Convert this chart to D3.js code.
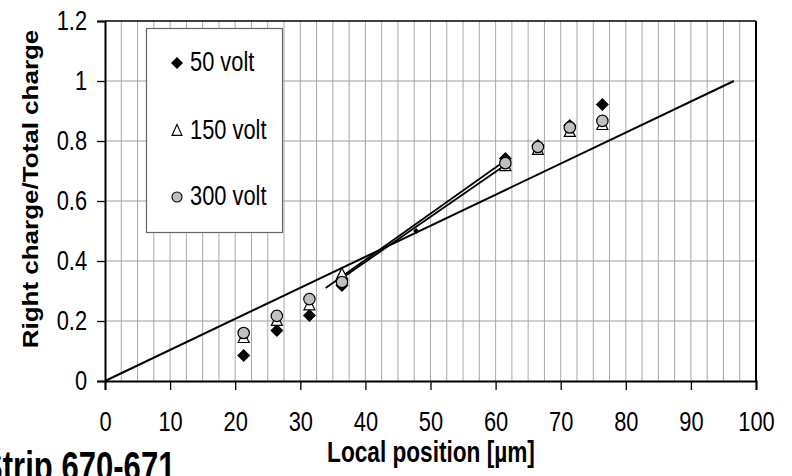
<!DOCTYPE html>
<html>
<head>
<meta charset="utf-8">
<script src="https://cdn.jsdelivr.net/npm/d3@7"></script>
<style>
  html, body { margin: 0; padding: 0; background: #fff; }
  svg { display: block; }
  text { font-family: "Liberation Sans", Arial, sans-serif; fill: #000; }
</style>
</head>
<body>
<svg id="chart" width="792" height="476"></svg>
<script>
// ---- data ----
const positions = [21.3, 26.4, 31.4, 36.4, 61.5, 66.5, 71.4, 76.4];
const v50  = [0.085, 0.168, 0.218, 0.318, 0.742, 0.785, 0.852, 0.922];
const v150 = [0.143, 0.200, 0.252, 0.355, 0.716, 0.770, 0.830, 0.853];
const v300 = [0.160, 0.217, 0.273, 0.330, 0.726, 0.780, 0.845, 0.867];
const midPoint = [[47.8, 0.50]];
const diagonalLine = [[0, 0], [96.6, 1.0]];
const fitLineA = [[33.9, 0.31], [61.5, 0.735]];
const fitLineB = [[36.2, 0.34], [61.5, 0.72]];
const xTicks = [0, 10, 20, 30, 40, 50, 60, 70, 80, 90, 100];
const yTicks = [0, 0.2, 0.4, 0.6, 0.8, 1, 1.2];
const legendLabels = ["50 volt", "150 volt", "300 volt"];

const svg = d3.select("#chart");
const x = d3.scaleLinear().domain([0, 100]).range([105, 756]);
const y = d3.scaleLinear().domain([0, 1.2]).range([381, 21]);
const SX = 0.78; // horizontal text compression
const FS = 28;

// grid
const vGrid = d3.range(2.5, 100, 2.5);
svg.append("g").selectAll("line").data(vGrid).join("line")
  .attr("x1", d => x(d)).attr("x2", d => x(d))
  .attr("y1", y(1.2)).attr("y2", y(0))
  .attr("stroke", "#a8a8a8").attr("stroke-width", 1);
svg.append("g").selectAll("line").data(yTicks.filter(d => d > 0 && d < 1.2)).join("line")
  .attr("x1", x(0)).attr("x2", x(100))
  .attr("y1", d => y(d)).attr("y2", d => y(d))
  .attr("stroke", "#a0a0a0").attr("stroke-width", 1.2);

// frame top/right
svg.append("line").attr("x1", x(0)).attr("x2", x(100)).attr("y1", y(1.2)).attr("y2", y(1.2))
  .attr("stroke", "#000").attr("stroke-width", 1.5);
svg.append("line").attr("x1", x(100)).attr("x2", x(100)).attr("y1", y(1.2)).attr("y2", y(0))
  .attr("stroke", "#000").attr("stroke-width", 2);

// axes
const xAxis = d3.axisBottom(x).tickValues(xTicks).tickSize(9).tickPadding(21).tickFormat(d3.format("d"));
const gx = svg.append("g").attr("transform", `translate(0,${y(0)})`).call(xAxis);
gx.select(".domain").attr("stroke", "#000").attr("stroke-width", 2);
gx.selectAll(".tick line").attr("stroke", "#000").attr("stroke-width", 1.3);
gx.selectAll(".tick text").attr("font-size", FS).attr("font-family", "Liberation Sans, Arial, sans-serif")
  .attr("transform", `scale(${SX},1)`);

const yAxis = d3.axisLeft(y).tickValues(yTicks).tickSize(8).tickPadding(15).tickFormat(d => String(d));
const gy = svg.append("g").attr("transform", `translate(${x(0)},0)`).call(yAxis);
gy.select(".domain").attr("stroke", "#000").attr("stroke-width", 2);
gy.selectAll(".tick line").attr("stroke", "#000").attr("stroke-width", 1.3);
gy.selectAll(".tick text").attr("font-size", FS).attr("font-family", "Liberation Sans, Arial, sans-serif")
  .attr("transform", `scale(${SX},1)`);

// lines
const line = d3.line().x(d => x(d[0])).y(d => y(d[1]));
svg.append("path").attr("d", line(diagonalLine)).attr("fill", "none").attr("stroke", "#000").attr("stroke-width", 2);
svg.append("path").attr("d", line(fitLineA)).attr("fill", "none").attr("stroke", "#000").attr("stroke-width", 1.8);
svg.append("path").attr("d", line(fitLineB)).attr("fill", "none").attr("stroke", "#000").attr("stroke-width", 1.8);

// markers
function diamondPath(s) { return `M0,${-s}L${s},0L0,${s}L${-s},0Z`; }
function triPath(w, h) { return `M0,${-h * 0.6}L${w / 2},${h * 0.4}L${-w / 2},${h * 0.4}Z`; }

svg.append("g").selectAll("path").data(positions.map((p, i) => [p, v50[i]])).join("path")
  .attr("d", diamondPath(6.5)).attr("transform", d => `translate(${x(d[0])},${y(d[1])})`)
  .attr("fill", "#000");
svg.append("g").selectAll("path").data(midPoint).join("path")
  .attr("d", diamondPath(3)).attr("transform", d => `translate(${x(d[0])},${y(d[1])})`)
  .attr("fill", "#000");
svg.append("g").selectAll("path").data(positions.map((p, i) => [p, v150[i]])).join("path")
  .attr("d", triPath(11, 11)).attr("transform", d => `translate(${x(d[0])},${y(d[1])})`)
  .attr("fill", "#fff").attr("stroke", "#000").attr("stroke-width", 1.2);
svg.append("g").selectAll("circle").data(positions.map((p, i) => [p, v300[i]])).join("circle")
  .attr("cx", d => x(d[0])).attr("cy", d => y(d[1])).attr("r", 5.7)
  .attr("fill", "#c0c0c0").attr("stroke", "#000").attr("stroke-width", 1.2);

// legend
const lg = svg.append("g");
lg.append("rect").attr("x", 146.5).attr("y", 28.5).attr("width", 136).attr("height", 204)
  .attr("fill", "#fff").attr("stroke", "#666").attr("stroke-width", 1.2);
const legY = [63, 131, 197];
lg.append("path").attr("d", diamondPath(6)).attr("transform", `translate(177,${legY[0]})`).attr("fill", "#000");
lg.append("path").attr("d", triPath(10, 11)).attr("transform", `translate(177,${legY[1]})`)
  .attr("fill", "#fff").attr("stroke", "#000").attr("stroke-width", 1.1);
lg.append("circle").attr("cx", 177).attr("cy", legY[2]).attr("r", 5)
  .attr("fill", "#c0c0c0").attr("stroke", "#000").attr("stroke-width", 1.1);
legendLabels.forEach((t, i) => {
  lg.append("text").attr("transform", `translate(190,${legY[i] + 8}) scale(${SX},1)`)
    .attr("font-size", FS).text(t);
});

// axis titles
svg.append("text").attr("transform", `translate(431,462) scale(${SX},1)`)
  .attr("text-anchor", "middle").attr("font-weight", "bold").attr("font-size", 29)
  .text("Local position [µm]");
svg.append("text").attr("transform", `translate(38,189) rotate(-90) scale(1,0.82)`)
  .attr("text-anchor", "middle").attr("font-weight", "bold").attr("font-size", 26)
  .text("Right charge/Total charge");

// caption (cut off at the page edge as in the source)
svg.append("text").attr("transform", `translate(-18,481) scale(0.74,1)`)
  .attr("font-family", "Liberation Serif, 'Times New Roman', serif").attr("font-weight", "bold")
  .attr("font-size", 42).text("Strip 670-671");
</script>
</body>
</html>
